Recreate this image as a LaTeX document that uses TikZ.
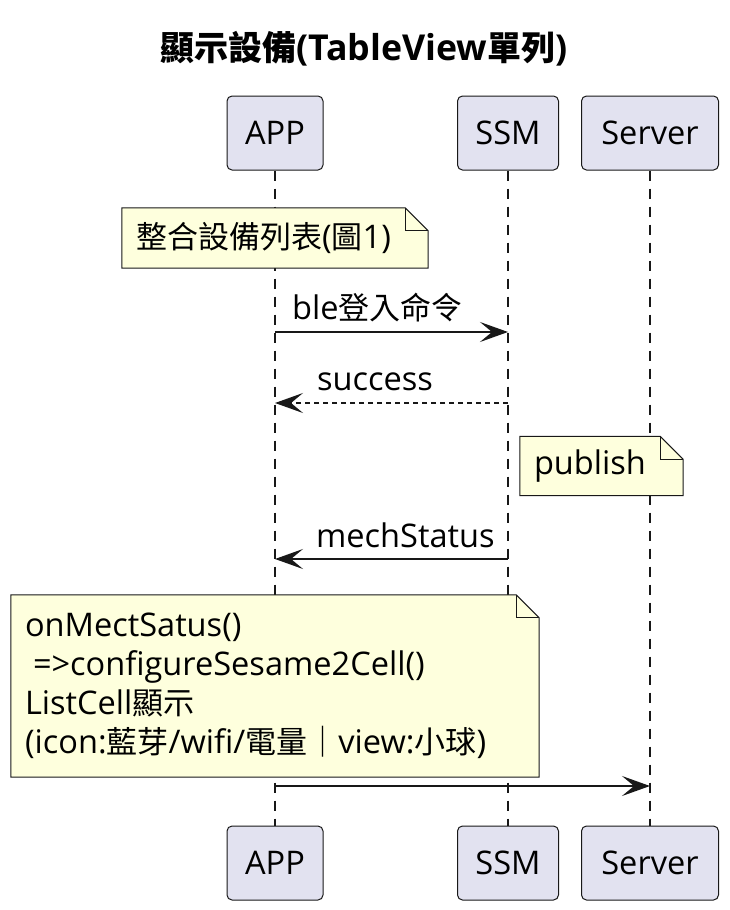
\documentclass[tikz,border=0pt]{standalone}
\usepackage{fontspec}
\setmainfont{Open Sans}[Scale=1.05]
\newfontfamily\cjk{Noto Sans CJK TC}
\usetikzlibrary{positioning, arrows.meta, backgrounds}
\newcommand{\zh}[1]{{\cjk #1}}
\definecolor{partfill}{HTML}{E2E2F0}
\definecolor{notefill}{HTML}{FEFFDD}
\definecolor{umlline}{HTML}{181818}

\begin{document}
\begin{tikzpicture}[
  x=1pt, y=-1pt,
  participant/.style={draw=umlline, fill=partfill, rounded corners=5pt, line width=1pt,
    minimum height=74pt, inner sep=0pt, font=\fontsize{31}{37}\selectfont},
  lifeline/.style={draw=umlline, line width=1.2pt, dash pattern=on 10pt off 8pt},
  msg/.style={draw=umlline, line width=2pt, -{Stealth[length=28pt, width=20pt, inset=12pt]}},
  reply/.style={msg, dash pattern=on 5pt off 4pt},
  note/.style={inner xsep=14pt, inner ysep=0pt, align=left, font=\fontsize{31}{39}\selectfont},
  noteline/.style={draw=umlline, fill=notefill, line width=1pt},
  msglabel/.style={anchor=base west, inner sep=0pt, font=\fontsize{31}{37}\selectfont}
]
  \useasboundingbox (0,0) rectangle (730,910);

  \node[anchor=base, inner sep=0pt, font=\bfseries\fontsize{34}{40}\selectfont] (title) at (364,60)
    {\zh{顯示設備}(TableView\zh{單列})};

  % Participants, top and bottom
  \node[participant, minimum width=96pt] (appTop) at (275,133) {APP};
  \node[participant, minimum width=101pt] (ssmTop) at (508,133) {SSM};
  \node[participant, minimum width=137pt] (serverTop) at (650,133) {Server};
  \node[participant, minimum width=96pt] (appBot) at (275,863) {APP};
  \node[participant, minimum width=101pt] (ssmBot) at (508,863) {SSM};
  \node[participant, minimum width=137pt] (serverBot) at (650,863) {Server};

  % Notes
  \node[note, minimum width=306pt, minimum height=60pt, text width=278pt] (noteList) at (275,238)
    {\zh{整合設備列表}(\zh{圖}1)};
  \node[note, minimum width=163pt, minimum height=59pt, text width=135pt] (notePublish) at (601.5,466)
    {publish};
  \node[note, minimum width=528pt, minimum height=182pt, text width=500pt] (noteCell) at (275,686)
    {onMectSatus()\\
     \hspace*{8pt}=>configureSesame2Cell()\\
     ListCell\zh{顯示}\\
     (icon:\zh{藍芽}/wifi/\zh{電量｜}view:\zh{小球})};

  \begin{scope}[on background layer]
    \draw[lifeline] (appTop) -- (appBot);
    \draw[lifeline] (ssmTop) -- (ssmBot);
    \draw[lifeline] (serverTop) -- (serverBot);

    \foreach \n in {noteList, notePublish, noteCell} {
      \draw[noteline] (\n.north west) -- ([xshift=-23pt]\n.north east)
        -- ([yshift=-23pt]\n.north east) -- (\n.south east) -- (\n.south west) -- cycle;
      \draw[noteline, fill=none] ([xshift=-23pt]\n.north east) |- ([yshift=-23pt]\n.north east);
    }
  \end{scope}

  % Messages
  \coordinate (loginA) at (appTop |- 0,332);
  \coordinate (loginB) at (ssmTop |- 0,332);
  \coordinate (okA) at (ssmTop |- 0,403);
  \coordinate (okB) at (appTop |- 0,403);
  \coordinate (statusA) at (ssmTop |- 0,559);
  \coordinate (statusB) at (appTop |- 0,559);
  \coordinate (pushA) at (appTop |- 0,786);
  \coordinate (pushB) at (serverTop |- 0,786);

  \draw[msg] (loginA) -- (loginB);
  \draw[reply] (okA) -- (okB);
  \draw[msg] (statusA) -- (statusB);
  \draw[msg] (pushA) -- (pushB);

  \node[msglabel] (lblLogin) at (292,319) {ble\zh{登入命令}};
  \node[msglabel] (lblOk) at (317,390) {success};
  \node[msglabel] (lblStatus) at (316,547) {mechStatus};
\end{tikzpicture}
\end{document}
